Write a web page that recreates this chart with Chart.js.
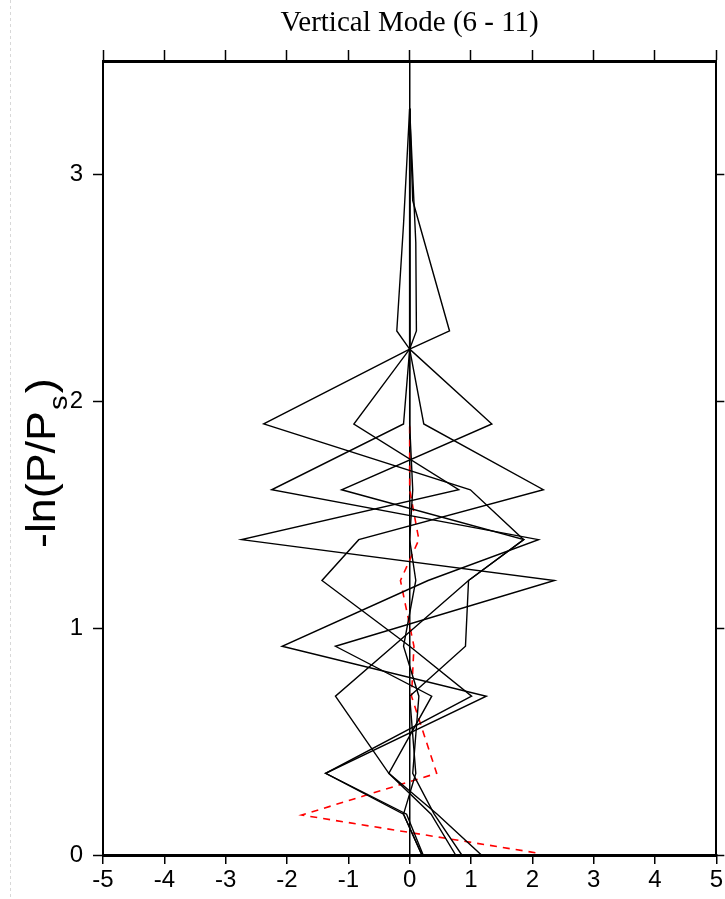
<!DOCTYPE html>
<html>
<head>
<meta charset="utf-8">
<script src="https://cdn.jsdelivr.net/npm/chart.js@4.4.1/dist/chart.umd.min.js"></script>
<style>
html,body{margin:0;padding:0;background:#fff;}
#wrap{width:725px;height:899px;position:relative;}
</style>
</head>
<body>
<div id="wrap"><canvas id="c" width="725" height="899"></canvas></div>
<script>
// ---- data (x = mode amplitude, y = -ln(P/Ps)) ----
const mode6X  = [0, 0.05, 0.65, 0, -2.38, 0.99, 1.86, 0.96, 0.91, 0.0, 0.1, -0.1, 0.2];
const mode6Y  = [3.29, 2.885, 2.31, 2.23, 1.90, 1.61, 1.39, 1.21, 0.92, 0.70, 0.36, 0.18, 0];
const mode7X  = [0, -0.1, -0.21, 0, -0.1, -2.25, 2.10, 0.3, -2.08, 1.25, -1.37, -0.1, 0.2];
const mode7Y  = [3.29, 2.78, 2.31, 2.23, 1.90, 1.61, 1.39, 1.21, 0.92, 0.70, 0.36, 0.18, 0];
const mode8X  = [0, 0.1, 0.11, 0, 0.23, 2.18, -0.83, -1.43, 0, 1.01, -1.37, -0.05, 0.22];
const mode8Y  = [3.29, 2.70, 2.31, 2.23, 1.90, 1.61, 1.39, 1.21, 0.92, 0.70, 0.36, 0.18, 0];
const mode9X  = [0, 0, 0, 0, -0.91, 0.80, -2.74, 2.36, -1.21, 0.36, -0.34, 0.35, 0.75];
const mode9Y  = [3.29, 2.885, 2.31, 2.23, 1.90, 1.61, 1.39, 1.21, 0.92, 0.70, 0.36, 0.18, 0];
const mode10X = [0, 0, 0, 0, 1.34, -1.11, 1.86, 0.96, -0.27, -1.21, -0.34, 0.45, 1.17];
const mode10Y = [3.29, 2.885, 2.31, 2.23, 1.90, 1.61, 1.39, 1.21, 0.92, 0.70, 0.36, 0.18, 0];
const mode11X = [0, 0, 0, 0, 0, 0.05, 0, 0.1, -0.1, 0.15, 0.05, 0.4, 0.85];
const mode11Y = [3.29, 2.885, 2.31, 2.23, 1.90, 1.61, 1.39, 1.21, 0.92, 0.70, 0.36, 0.18, 0];
const refX    = [2.05, -1.76, 0.44, 0.03, 0.07, -0.15, 0.15, 0, 0];
const refY    = [0.01, 0.176, 0.36, 0.70, 0.92, 1.21, 1.39, 1.61, 1.90];
const xTicks  = [-5, -4, -3, -2, -1, 0, 1, 2, 3, 4, 5];
const yTicks  = [0, 1, 2, 3];
const titleText = 'Vertical Mode (6 - 11)';

function pts(xs, ys){ return xs.map((x,i)=>({x:x, y:ys[i]})); }
const black = (xs, ys) => ({data: pts(xs, ys), borderColor:'#000', borderWidth:1.4, showLine:true, pointRadius:0, tension:0, fill:false});

const datasets = [
  black(mode6X, mode6Y), black(mode7X, mode7Y), black(mode8X, mode8Y),
  black(mode9X, mode9Y), black(mode10X, mode10Y), black(mode11X, mode11Y),
  {data: pts(refX, refY), borderColor:'#ff0000', borderWidth:1.6, borderDash:[7,6], showLine:true, pointRadius:0, tension:0, fill:false}
];

const tickFont = {family:'Liberation Sans, Arial, sans-serif', size:24};
const onlyTicks = list => axis => { axis.ticks = list.map(v=>({value:v})); };

const bgPlugin = {
  id:'bg',
  beforeDraw(chart){
    const ctx = chart.ctx;
    ctx.save();
    ctx.fillStyle = '#fff';
    ctx.fillRect(0,0,chart.width,chart.height);
    ctx.strokeStyle = '#d8d8d8';
    ctx.lineWidth = 1;
    ctx.setLineDash([3,3]);
    ctx.beginPath(); ctx.moveTo(10.5,0); ctx.lineTo(10.5,chart.height); ctx.stroke();
    ctx.restore();
  }
};
const yTitlePlugin = {
  id:'ytitle',
  afterDraw(chart){
    const ctx = chart.ctx;
    ctx.save();
    ctx.translate(55, 548);
    ctx.rotate(-Math.PI/2);
    ctx.scale(1.12, 1);
    ctx.fillStyle = '#000';
    ctx.textBaseline = 'alphabetic';
    ctx.font = '40px "Liberation Sans", Arial, sans-serif';
    const main = '-ln(P/P';
    ctx.fillText(main, 0, 0);
    let w = ctx.measureText(main).width;
    ctx.font = '26px "Liberation Sans", Arial, sans-serif';
    ctx.fillText('s', w + 1, 12);
    w += ctx.measureText('s').width + 3;
    ctx.font = '40px "Liberation Sans", Arial, sans-serif';
    ctx.fillText(')', w, 0);
    ctx.restore();
  }
};

new Chart(document.getElementById('c'), {
  type:'scatter',
  data:{datasets},
  plugins:[bgPlugin, yTitlePlugin],
  options:{
    responsive:false, animation:false, devicePixelRatio:1,
    layout:{padding:0},
    plugins:{
      legend:{display:false}, tooltip:{enabled:false},
      title:{display:true, text:titleText, fullSize:false, color:'#000',
             font:{family:'Liberation Serif, Times New Roman, serif', size:29, weight:'normal', lineHeight:1.2},
             padding:{top:6,bottom:0}}
    },
    scales:{
      x:{type:'linear', position:'bottom', min:-5, max:5,
         afterBuildTicks: onlyTicks(xTicks),
         ticks:{font:tickFont, color:'#000', padding:2, maxRotation:0, autoSkip:false},
         grid:{color: c => (c.tick && c.tick.value===0) ? '#000' : 'rgba(0,0,0,0)', lineWidth:1.5,
               tickColor:'#000', tickLength:9, tickWidth:1.5},
         border:{display:true, color:'#000', width:3},
         afterFit: s => { s.height = 44; }},
      xTop:{type:'linear', position:'top', min:-5, max:5,
         afterBuildTicks: onlyTicks(xTicks),
         ticks:{display:false},
         grid:{drawOnChartArea:false, tickColor:'#000', tickLength:11, tickWidth:1.5},
         border:{display:true, color:'#000', width:3},
         afterFit: s => { s.height = 61 - 6 - 29*1.2; }},
      y:{type:'linear', position:'left', min:0, max:3.5,
         afterBuildTicks: onlyTicks(yTicks),
         ticks:{font:tickFont, color:'#000', padding:10},
         grid:{drawOnChartArea:false, tickColor:'#000', tickLength:10, tickWidth:1.5},
         border:{display:true, color:'#000', width:2},
         afterFit: s => { s.width = 103; }},
      yRight:{type:'linear', position:'right', min:0, max:3.5,
         afterBuildTicks: onlyTicks(yTicks),
         ticks:{display:false},
         grid:{drawOnChartArea:false, tickColor:'#000', tickLength:8, tickWidth:1.5},
         border:{display:true, color:'#000', width:2},
         afterFit: s => { s.width = 8; }}
    }
  }
});
</script>
</body>
</html>
